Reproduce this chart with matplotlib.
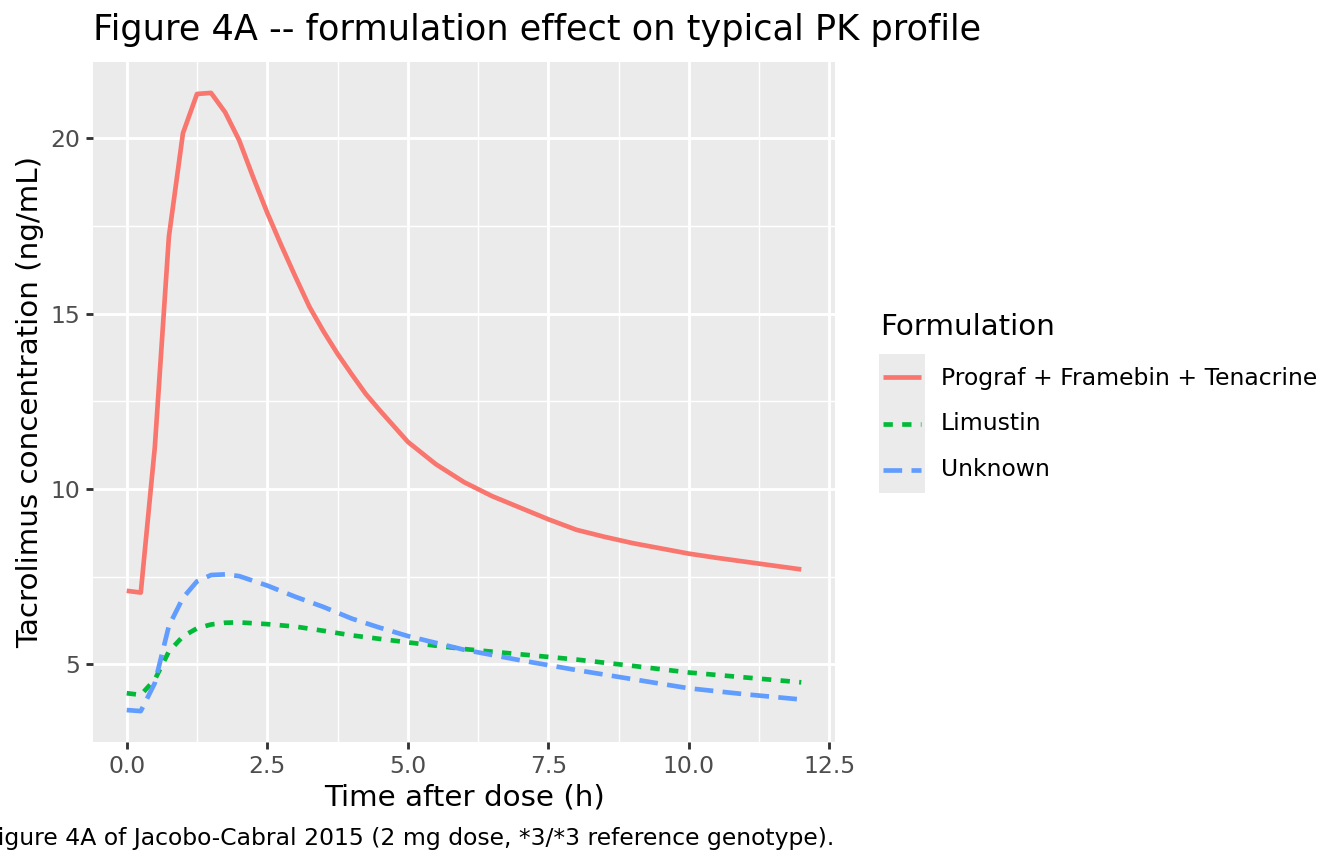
import numpy as np
import matplotlib
matplotlib.use("Agg")
import matplotlib.pyplot as plt
from matplotlib.ticker import MultipleLocator

# time points (h) and concentrations (ng/mL)
t_prograf = [0, 0.25, 0.5, 0.75, 1.0, 1.25, 1.5, 1.75, 2.0, 2.25, 2.5, 2.75, 3.0, 3.25,
             3.5, 3.75, 4.0, 4.25, 4.5, 5.0, 5.5, 6.0, 6.5, 7.0, 7.5, 8.0, 8.5, 9.0,
             9.5, 10.0, 10.5, 11.0, 11.5, 12.0]
c_prograf = [7.1, 7.05, 11.2, 17.2, 20.15, 21.27, 21.3, 20.75, 19.95, 18.89, 17.88, 16.95,
             16.06, 15.2, 14.5, 13.86, 13.28, 12.72, 12.25, 11.35, 10.71, 10.2, 9.8, 9.47,
             9.14, 8.84, 8.64, 8.46, 8.31, 8.16, 8.04, 7.93, 7.82, 7.71]

t_other = [0, 0.25, 0.5, 0.75, 1.0, 1.25, 1.5, 1.75, 2.0, 2.5, 3.0, 3.5, 4.0, 4.5,
           5.0, 6.0, 7.0, 8.0, 9.0, 10.0, 11.0, 12.0]
c_limustin = [4.18, 4.13, 4.57, 5.37, 5.8, 6.03, 6.14, 6.19, 6.2, 6.15, 6.08, 5.96, 5.83,
              5.73, 5.63, 5.44, 5.29, 5.14, 4.96, 4.77, 4.63, 4.49]
c_unknown = [3.7, 3.67, 4.47, 6.1, 6.9, 7.37, 7.55, 7.57, 7.52, 7.25, 6.93, 6.64, 6.31,
             6.05, 5.81, 5.42, 5.12, 4.84, 4.58, 4.32, 4.15, 4.0]

labels = ["Prograf + Framebin + Tenacrine", "Limustin", "Unknown"]
colors = ["#F8766D", "#00BA38", "#619CFF"]
dashes = [None, (2, 2), (4, 2)]

W, H = 1344, 864
fig = plt.figure(figsize=(7, 4.5), dpi=192)

def fx(px):
    return px / W

def fy(py):
    return 1 - py / H

ax = fig.add_axes([fx(93), fy(742), fx(835 - 93), (742 - 62) / H])
ax.set_facecolor("#EBEBEB")

lw = 1.75
series = [(t_prograf, c_prograf), (t_other, c_limustin), (t_other, c_unknown)]
for (tt, cc), col, d in zip(series, colors, dashes):
    line, = ax.plot(tt, cc, color=col, lw=lw, solid_capstyle="butt",
                    solid_joinstyle="round", zorder=3)
    if d is not None:
        line.set_dashes(d)

allt = np.concatenate([t_prograf, t_other])
allc = np.concatenate([c_prograf, c_limustin, c_unknown])
xr = allt.max() - allt.min()
yr = allc.max() - allc.min()
ax.set_xlim(allt.min() - 0.05 * xr, allt.max() + 0.05 * xr)
ax.set_ylim(allc.min() - 0.05 * yr, allc.max() + 0.05 * yr)

ax.xaxis.set_major_locator(MultipleLocator(2.5))
ax.xaxis.set_minor_locator(MultipleLocator(1.25))
ax.yaxis.set_major_locator(MultipleLocator(5))
ax.yaxis.set_minor_locator(MultipleLocator(2.5))
ax.xaxis.set_major_formatter(matplotlib.ticker.FormatStrFormatter("%.1f"))
ax.grid(which="major", color="white", lw=1.07)
ax.grid(which="minor", color="white", lw=0.53)
ax.set_axisbelow(True)
for s in ax.spines.values():
    s.set_visible(False)
ax.tick_params(which="major", length=2.75, width=1.07, color="#333333",
               labelsize=8.8, labelcolor="#4D4D4D", pad=2.2)
ax.tick_params(which="minor", length=0)

ax.set_xlabel("Time after dose (h)", fontsize=11, labelpad=2)
ax.set_ylabel("Tacrolimus concentration (ng/mL)", fontsize=11, labelpad=2)

fig.text(fx(93), fy(30), "Figure 4A -- formulation effect on typical PK profile",
         fontsize=13.2, ha="left", va="center")
fig.text(fx(834), fy(838),
         "Figure 4A of Jacobo-Cabral 2015 (2 mg dose, *3/*3 reference genotype).",
         fontsize=8.8, ha="right", va="center")

# legend
fig.text(fx(880), fy(327), "Formulation", fontsize=11, ha="left", va="center")
lax = fig.add_axes([fx(879), fy(493), fx(925 - 879), (493 - 354) / H])
lax.set_facecolor("#EBEBEB")
lax.set_xlim(0, 1)
lax.set_ylim(0, 3)
lax.set_xticks([])
lax.set_yticks([])
for s in lax.spines.values():
    s.set_visible(False)
for i, (lab, col, d) in enumerate(zip(labels, colors, dashes)):
    yy = 2.5 - i
    ln, = lax.plot([0.087, 0.913], [yy, yy], color=col, lw=lw, solid_capstyle="butt")
    if d is not None:
        ln.set_dashes(d)
    fig.text(fx(941), fy(378 + 46 * i), lab, fontsize=8.8, ha="left", va="center")

fig.savefig("out.png", dpi=192)
